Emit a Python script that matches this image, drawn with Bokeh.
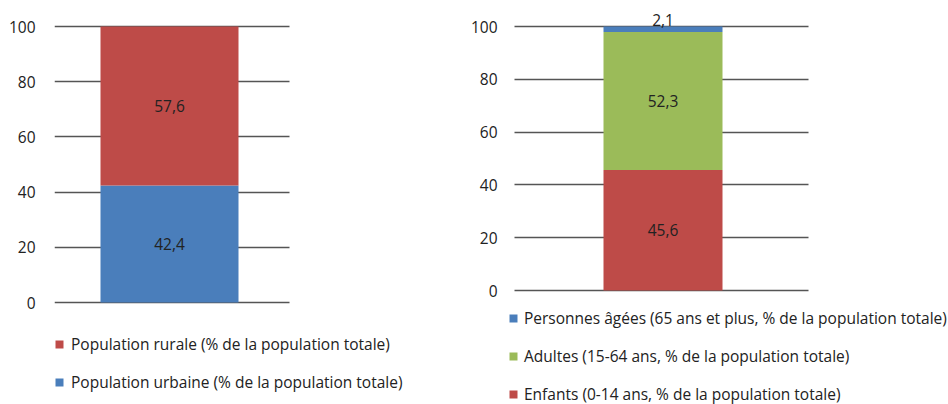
import numpy as np
from bokeh.plotting import figure
from bokeh.layouts import row
from bokeh.models import Range1d, FixedTicker, Legend, LegendItem, ColumnDataSource
from bokeh.embed import file_html
from bokeh.resources import INLINE
from bokeh.core.properties import value

# ---- data ----
res_labels = ["Population urbaine (% de la population totale)",
              "Population rurale (% de la population totale)"]
res_values = [42.4, 57.6]
res_colors = ["#4A7EBB", "#BE4B48"]

age_labels = ["Enfants (0-14 ans, % de la population totale)",
              "Adultes (15-64 ans, % de la population totale)",
              "Personnes âgées (65 ans et plus, % de la population totale)"]
age_values = [45.6, 52.3, 2.1]
age_colors = ["#BE4B48", "#9BBB59", "#4A7EBB"]

y_ticks = [0, 20, 40, 60, 80, 100]

FONT = "Open Sans"
FS = "15.5px"
TXT = "#222222"
H = 404


def fmt(v):
    return f"{v:.1f}".replace(".", ",")


def panel(labels, values, colors, width, bl, xr, grid_x, yr, standoff, legend_loc, lstandoff, spacing):
    p = figure(width=width, height=H, x_range=Range1d(*xr), y_range=Range1d(*yr),
               frame_width=width - bl, frame_height=H,
               min_border_left=bl, min_border_right=0,
               min_border_top=0, min_border_bottom=0,
               x_axis_location=None,
               output_backend="svg", toolbar_location=None)
    p.outline_line_color = None
    p.xgrid.visible = False
    tk = FixedTicker(ticks=y_ticks)
    p.yaxis.ticker = tk
    p.ygrid.ticker = tk
    p.ygrid.cross_bounds = grid_x
    p.yaxis.axis_line_color = None
    p.yaxis.major_tick_line_color = None
    p.yaxis.minor_tick_line_color = None
    p.yaxis.major_tick_out = 0
    p.yaxis.major_tick_in = 0
    p.yaxis.minor_tick_out = 0
    p.yaxis.major_label_standoff = standoff
    p.yaxis.major_label_text_font = FONT
    p.yaxis.major_label_text_font_size = FS
    p.yaxis.major_label_text_color = TXT
    p.ygrid.grid_line_color = "#555555"
    p.ygrid.grid_line_width = 1.4

    vals = np.array(values)
    tops = np.cumsum(vals)
    bottoms = tops - vals
    renderers = []
    for lab, v, b, t, c in zip(labels, values, bottoms, tops, colors):
        r = p.vbar(x=[0], bottom=[b], top=[t], width=1, fill_color=c, line_color=None)
        renderers.append((lab, r))

    big = [(fmt(v), (b + t) / 2) for v, b, t in zip(values, bottoms, tops) if v >= 5]
    small = [(fmt(v), t) for v, b, t in zip(values, bottoms, tops) if v < 5]
    if big:
        src = ColumnDataSource(dict(x=[0] * len(big), y=[m for _, m in big], t=[s for s, _ in big]))
        p.text(x="x", y="y", text="t", source=src, text_align="center", text_baseline="middle",
               text_font=value(FONT), text_font_size=FS, text_color=TXT)
    if small:
        src = ColumnDataSource(dict(x=[0] * len(small), y=[m for _, m in small], t=[s for s, _ in small]))
        p.text(x="x", y="y", text="t", source=src, text_align="center", text_baseline="bottom",
               y_offset=-1, text_font=value(FONT), text_font_size=FS, text_color=TXT)

    items = [LegendItem(label=lab, renderers=[r]) for lab, r in reversed(renderers)]
    leg = Legend(items=items, location=legend_loc, orientation="vertical",
                 glyph_width=10, glyph_height=10, label_standoff=lstandoff, spacing=spacing,
                 padding=0, margin=0, border_line_color=None, background_fill_alpha=0,
                 label_text_font=FONT, label_text_font_size=FS, label_text_color=TXT,
                 label_height=20, label_text_baseline="middle")
    p.add_layout(leg, "center")
    return p


# left panel: gridlines x 54..289, bar 100..238; y: 100 at px 26, 0 at px 302
ls = (302 - 26) / 100
p1 = panel(res_labels, res_values, res_colors, 462, 54,
           (-(169 - 54) / 138, (462 - 169) / 138),
           (-(169 - 54) / 138, (289 - 169) / 138),
           (-(H - 302) / ls, 100 + 26 / ls), 19, (0, 11), 7, 16)
# right panel: frame from 508, gridlines x 514..808, bar 603..722; y: 100 at 26, 0 at 290
rs = (290 - 26) / 100
p2 = panel(age_labels, age_values, age_colors, 486, 46,
           (-(662.5 - 508) / 119, (948 - 662.5) / 119),
           (-(662.5 - 514) / 119, (808 - 662.5) / 119),
           (-(H - 290) / rs, 100 + 26 / rs), 11, (0, -1), 6, 16)

layout = row(p1, p2)
open("out.html", "w").write(file_html(layout, INLINE))
